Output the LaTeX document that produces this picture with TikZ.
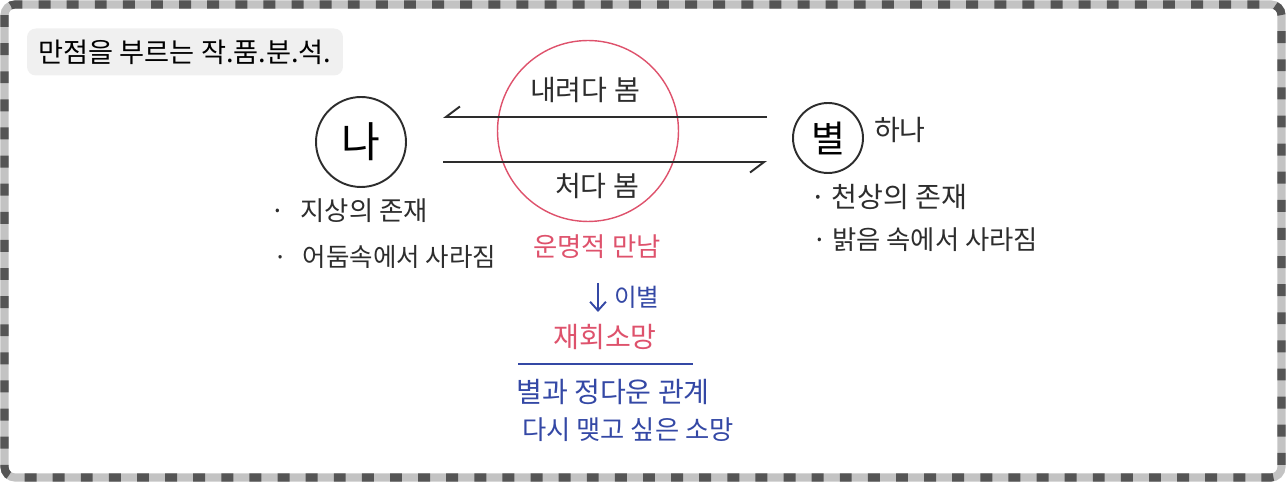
\documentclass[tikz,border=0pt]{standalone}
\usepackage{fontspec}
\setmainfont{Noto Sans CJK KR}
\usetikzlibrary{arrows.meta}
\definecolor{ink}{RGB}{45,45,45}
\definecolor{penred}{RGB}{222,82,108}
\definecolor{penblue}{RGB}{52,72,165}
\definecolor{framedark}{RGB}{85,85,85}
\definecolor{framelight}{RGB}{195,195,195}
\definecolor{tagbg}{RGB}{240,240,240}
\newcommand{\handfont}[1]{\fontsize{#1}{#1}\selectfont}
\tikzset{
  hand/.style={font=\handfont{14pt},text=ink,inner sep=1pt},
  redtxt/.style={hand,text=penred},
  bluetxt/.style={hand,text=penblue},
  ring/.style={draw=ink,circle,line width=1.1pt,inner sep=0pt},
  look/.style={draw=ink,line width=1.1pt,-{Straight Barb[right,length=8pt,width=12pt,line width=1.1pt]}},
}
\begin{document}
\begin{tikzpicture}[x=0.02cm,y=-0.02cm]
  \useasboundingbox (0,0) rectangle (1286,482);
  % frame
  \draw[framelight,line width=4.6pt,rounded corners=6pt] (4.5,4.5) rectangle (1281.5,477.5);
  \draw[framedark,line width=4.6pt,dash pattern=on 6.8pt off 9.2pt,rounded corners=6pt] (4.5,4.5) rectangle (1281.5,477.5);
  % title tag
  \node[hand,text=black,font=\handfont{15.5pt},fill=tagbg,rounded corners=5pt,minimum width=6.32cm,minimum height=0.94cm] (title) at (185,52) {만점을 부르는 작.품.분.석.};
  % the two sides
  \node[ring,minimum size=1.8cm,font=\handfont{24pt}] (me) at (361,142) {나};
  \node[ring,minimum size=1.4cm,font=\handfont{21pt}] (star) at (828,138) {별};
  \node[hand,font=\handfont{16pt},anchor=west] (one) at (872,130) {하나};
  \node[draw=penred,circle,line width=0.8pt,minimum size=3.62cm] (meet) at (588,131) {};
  \node[hand,font=\handfont{16pt}] (down) at (585,90) {내려다 봄};
  \node[hand,font=\handfont{16pt}] (up) at (597,186) {처다 봄};
  \coordinate (topL) at (443,117);
  \coordinate (topR) at (767,117);
  \coordinate (botL) at (443,162);
  \coordinate (botR) at (767,162);
  \draw[look] (topR) -- (topL);
  \draw[look] (botL) -- (botR);
  % notes
  \node[hand,font=\handfont{15pt},anchor=west] (earth) at (268,211) {·\hspace{0.6em}지상의 존재};
  \node[hand,font=\handfont{14.5pt},anchor=west] (dark) at (271,257) {·\hspace{0.6em}어둠속에서 사라짐};
  \node[hand,font=\handfont{16pt},anchor=west] (sky) at (808,197) {·\hspace{0.2em}천상의 존재};
  \node[hand,font=\handfont{15pt},anchor=west] (light) at (810,240) {·\hspace{0.2em}밝음 속에서 사라짐};
  % what happens
  \node[redtxt,font=\handfont{15pt}] (fate) at (597,247) {운명적 만남};
  \coordinate (partA) at (598,283);
  \coordinate (partB) at (598,312);
  \draw[penblue,line width=1.1pt,-{Straight Barb[length=5pt,width=9pt,line width=1.1pt]}] (partA) -- (partB);
  \node[bluetxt,font=\handfont{14pt},anchor=west] (part) at (612,297) {이별};
  \node[redtxt,font=\handfont{16pt}] (wish) at (605,337) {재회소망};
  \coordinate (ruleL) at (518,364);
  \coordinate (ruleR) at (693,364);
  \draw[penblue,line width=1pt] (ruleL) -- (ruleR);
  \node[bluetxt,font=\handfont{16pt}] (bond) at (613,392) {별과 정다운 관계};
  \node[bluetxt,font=\handfont{15pt}] (hope) at (628,430) {다시 맺고 싶은 소망};
\end{tikzpicture}
\end{document}
